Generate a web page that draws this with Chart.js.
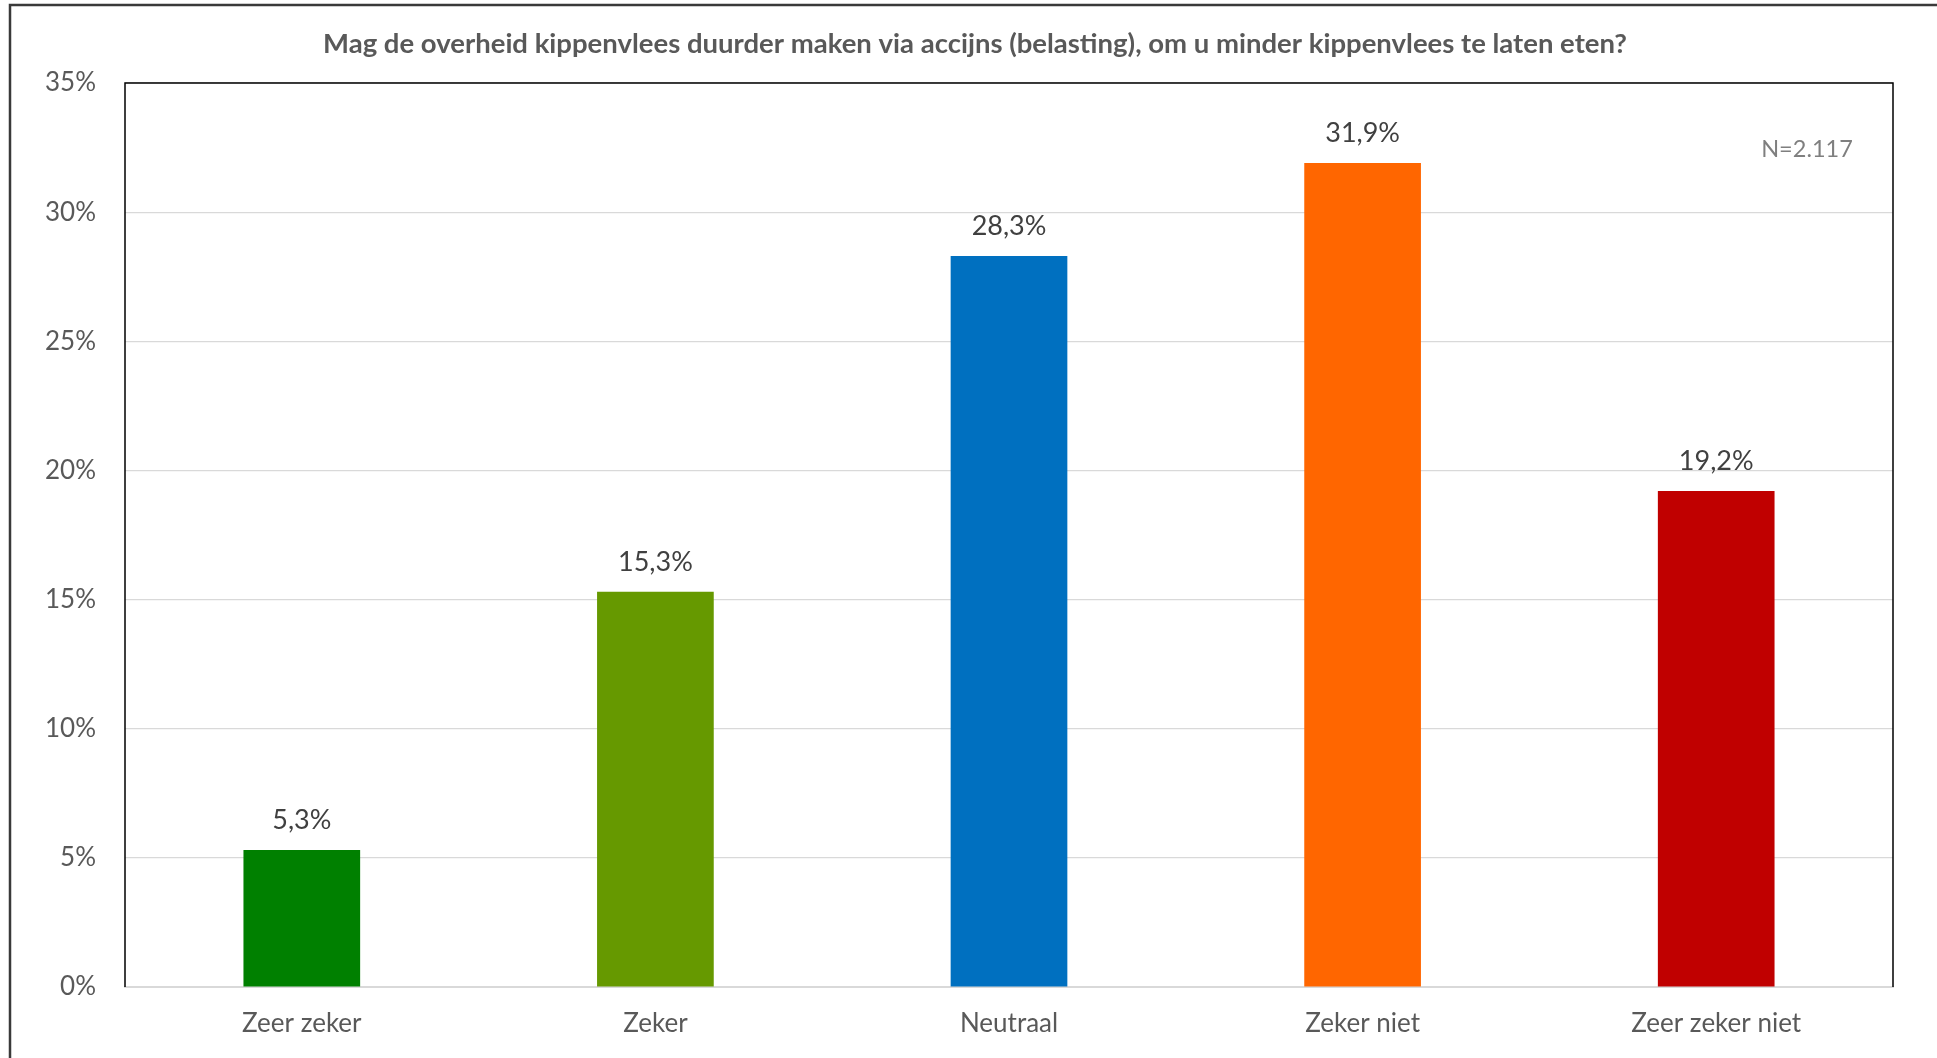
<!DOCTYPE html>
<html>
<head>
<meta charset="utf-8">
<script src="https://cdn.jsdelivr.net/npm/chart.js@4.4.1/dist/chart.umd.min.js"></script>
<style>
  html, body { margin: 0; padding: 0; background: #fff; }
  #wrap { width: 1937px; height: 1058px; position: relative; }
</style>
</head>
<body>
<div id="wrap"><canvas id="chart" width="1937" height="1058"></canvas></div>
<script>
const categories = ['Zeer zeker', 'Zeker', 'Neutraal', 'Zeker niet', 'Zeer zeker niet'];
const values = [5.3, 15.3, 28.3, 31.9, 19.2];
const barColors = ['#008000', '#669900', '#0070C0', '#FF6600', '#C00000'];
const titleText = 'Mag de overheid kippenvlees duurder maken via accijns (belasting), om u minder kippenvlees te laten eten?';
const noteText = 'N=2.117';

const fontFamily = 'Lato, "Open Sans", sans-serif';

// outer frame, title, N label, plot border and value labels
const decorations = {
    id: 'decorations',
    beforeDraw(chart) {
        const ctx = chart.ctx;
        ctx.save();
        ctx.fillStyle = '#fff';
        ctx.fillRect(0, 0, chart.width, chart.height);
        ctx.strokeStyle = '#3a3a3a';
        ctx.lineWidth = 2.5;
        ctx.beginPath();
        ctx.moveTo(chart.width, 5);
        ctx.lineTo(10, 5);
        ctx.lineTo(10, chart.height);
        ctx.stroke();
        ctx.restore();
    },
    afterDatasetsDraw(chart) {
        const ctx = chart.ctx;
        const area = chart.chartArea;
        ctx.save();

        ctx.strokeStyle = '#000';
        ctx.lineWidth = 1.5;
        ctx.beginPath();
        ctx.moveTo(area.left, area.bottom);
        ctx.lineTo(area.left, area.top);
        ctx.lineTo(area.right, area.top);
        ctx.lineTo(area.right, area.bottom);
        ctx.stroke();

        ctx.fillStyle = '#595959';
        ctx.font = 'bold 27.5px ' + fontFamily;
        ctx.textAlign = 'center';
        ctx.textBaseline = 'middle';
        ctx.fillText(titleText, 975, 44);

        ctx.fillStyle = '#7f7f7f';
        ctx.font = '23.5px ' + fontFamily;
        ctx.fillText(noteText, 1807, 149);

        ctx.fillStyle = '#404040';
        ctx.font = '27px ' + fontFamily;
        const meta = chart.getDatasetMeta(0);
        meta.data.forEach((bar, i) => {
            const label = values[i].toFixed(1).replace('.', ',') + '%';
            ctx.fillText(label, bar.x, bar.y - 30);
        });
        ctx.restore();
    }
};

new Chart(document.getElementById('chart'), {
    type: 'bar',
    data: {
        labels: categories,
        datasets: [{
            data: values,
            backgroundColor: barColors,
            barPercentage: 0.33,
            categoryPercentage: 1
        }]
    },
    options: {
        responsive: false,
        animation: false,
        layout: { padding: { top: 83, right: 44, left: 0, bottom: 0 } },
        plugins: { legend: { display: false }, tooltip: { enabled: false } },
        scales: {
            x: {
                grid: { display: false, drawTicks: false },
                border: { display: true, color: '#d9d9d9', width: 2 },
                ticks: { color: '#595959', font: { family: fontFamily, size: 26 }, padding: 21 },
                afterFit(scale) { scale.height = 71; }
            },
            y: {
                min: 0,
                max: 35,
                ticks: {
                    stepSize: 5,
                    color: '#595959',
                    padding: 29,
                    font: { family: fontFamily, size: 26 },
                    callback: v => v + '%'
                },
                grid: {
                    drawTicks: false,
                    color: ctx => (ctx.tick && ctx.tick.value === 0) ? 'rgba(0,0,0,0)' : '#d9d9d9',
                    lineWidth: 1.2
                },
                border: { display: false },
                afterFit(scale) { scale.width = 125; }
            }
        }
    },
    plugins: [decorations]
});
</script>
</body>
</html>
